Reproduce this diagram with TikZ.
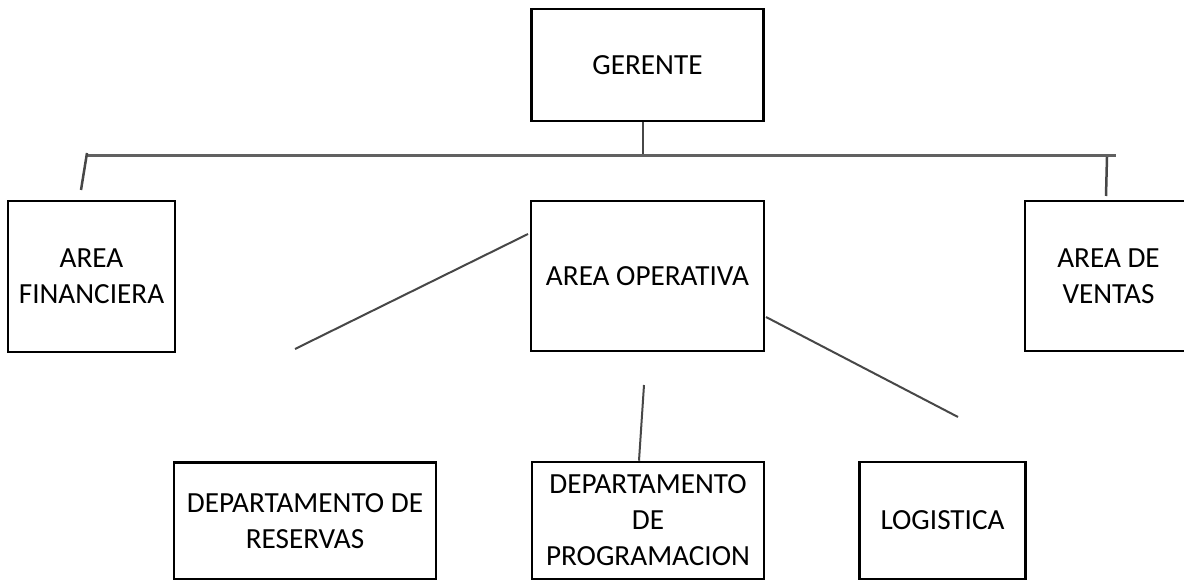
\documentclass[tikz,border=0pt]{standalone}
\usepackage{fontspec}
\setmainfont{Carlito}
\begin{document}
\begin{tikzpicture}[x=1pt,y=-1pt,
  box/.style={draw=black, line width=2.6pt, align=center, inner sep=0pt,
    font=\fontsize{29.2}{36}\selectfont, text=black},
  conn/.style={draw=black!72, line width=2pt},
  bus/.style={draw=black!62, line width=3pt}]
\useasboundingbox (0,0) rectangle (1184,580);
\clip (0,0) rectangle (1184,580);
\fill[white] (0,0) rectangle (1184,580);
% boxes
\node[box, minimum width=232pt, minimum height=112pt] (ger) at (647.5,65) {GERENTE};
\node[box, minimum width=167pt, minimum height=151pt] (fin) at (91.5,276.5) {AREA\\FINANCIERA};
\node[box, minimum width=233pt, minimum height=150pt] (ope) at (647.5,276) {AREA OPERATIVA};
\node[box, minimum width=167pt, minimum height=150pt] (ven) at (1108.5,276) {AREA DE\\VENTAS};
\node[box, minimum width=262pt, minimum height=117pt] (res) at (305,521) {DEPARTAMENTO DE\\RESERVAS};
\node[box, minimum width=232pt, minimum height=117pt] (pro) at (648,520.5) {DEPARTAMENTO\\DE\\PROGRAMACION};
\node[box, minimum width=166pt, minimum height=117pt] (log) at (942.5,520.5) {LOGISTICA};
% coordinates
\coordinate (gt) at (ger.south -| 643,0);
\coordinate (gb) at (643,155);
\coordinate (bl) at (86,156);
\coordinate (br) at (1116,156);
\coordinate (lt1) at (87,153);
\coordinate (lt2) at (81,190);
\coordinate (rt1) at (1107,157);
\coordinate (rt2) at (1106,196);
\coordinate (ol) at (528,234);
\coordinate (olend) at (295,349);
\coordinate (or) at (766,317);
\coordinate (orend) at (958,417);
\coordinate (pt) at (644,385);
% connectors
\draw[conn, line width=2.2pt] (gt) -- (gb);
\draw[bus] (bl) -- (br);
\draw[conn, line width=2.5pt] (lt1) -- (lt2);
\draw[conn, line width=2.5pt] (rt1) -- (rt2);
\draw[conn] (ol) -- (olend);
\draw[conn] (or) -- (orend);
\draw[conn] (pt) -- (pro.north -| 639,0);
\end{tikzpicture}
\end{document}
